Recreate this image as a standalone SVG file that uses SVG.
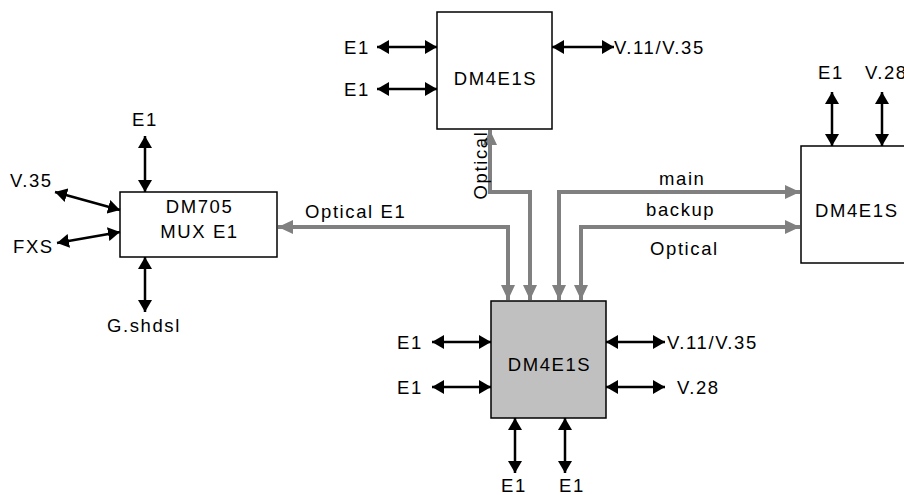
<svg xmlns="http://www.w3.org/2000/svg" width="904" height="495" viewBox="0 0 904 495">
<style>
text{font-family:"Liberation Sans",Arial,sans-serif;font-size:18.5px;letter-spacing:1.6px;fill:#000}
.box{fill:#fff;stroke:#000;stroke-width:1.5}
.boxg{fill:#c0c0c0;stroke:#000;stroke-width:1.5}
.bl{fill:none;stroke:#000;stroke-width:2.5;marker-start:url(#ab);marker-end:url(#ab)}
.gl{fill:none;stroke:#808080;stroke-width:4;marker-start:url(#ag);marker-end:url(#ag)}
.m{text-anchor:middle}
</style>
<defs>
<marker id="ab" viewBox="0 0 12 14" refX="12" refY="7" markerWidth="12" markerHeight="14" markerUnits="userSpaceOnUse" orient="auto-start-reverse"><path d="M0,0 L12,7 L0,14 z" fill="#000"/></marker>
<marker id="ag" viewBox="0 0 15 14" refX="15" refY="7" markerWidth="15" markerHeight="14" markerUnits="userSpaceOnUse" orient="auto-start-reverse"><path d="M0,0 L15,7 L0,14 z" fill="#808080"/></marker>
</defs>
<g id="connectors">
<path class="gl" d="M278,227 H508 V300"/>
<path class="gl" d="M490,130 V192 H530 V300"/>
<path class="gl" d="M559,300 V192 H800"/>
<path class="gl" d="M581,300 V227 H800"/>
<text x="305" y="218">Optical E1</text>
<text transform="translate(487,165) rotate(-90)" class="m">Optical</text>
<text x="659" y="185">main</text>
<text x="646" y="216">backup</text>
<text x="650" y="255">Optical</text>
</g>
<g id="dm4e1s-top">
<rect class="box" x="437" y="12" width="115" height="117"/>
<text class="m" x="495.5" y="85">DM4E1S</text>
<path class="bl" d="M377,47 H437"/>
<path class="bl" d="M377,89 H437"/>
<path class="bl" d="M552,47 H614"/>
<text x="344" y="54">E1</text>
<text x="344" y="96">E1</text>
<text x="614" y="54">V.11/V.35</text>
</g>
<g id="dm705">
<rect class="box" x="120" y="192" width="157" height="65"/>
<text class="m" x="199.5" y="213">DM705</text>
<text class="m" x="199.5" y="238">MUX E1</text>
<path class="bl" d="M145,136 V192"/>
<path class="bl" d="M145,257 V312"/>
<path class="bl" d="M55,192 L120,210"/>
<path class="bl" d="M57,243 L120,232"/>
<text class="m" x="145" y="126">E1</text>
<text x="10" y="187">V.35</text>
<text x="13" y="253">FXS</text>
<text x="107" y="332">G.shdsl</text>
</g>
<g id="dm4e1s-right">
<rect class="box" x="801" y="146" width="115" height="117"/>
<text x="815" y="217">DM4E1S</text>
<path class="bl" d="M832,92 V146"/>
<path class="bl" d="M882,92 V146"/>
<text x="818" y="79">E1</text>
<text x="865" y="79">V.28</text>
</g>
<g id="dm4e1s-main">
<rect class="boxg" x="491" y="301" width="115" height="117"/>
<text class="m" x="549.5" y="371">DM4E1S</text>
<path class="bl" d="M432,342 H491"/>
<path class="bl" d="M432,387 H491"/>
<path class="bl" d="M606,342 H665"/>
<path class="bl" d="M606,387 H665"/>
<path class="bl" d="M515,418 V473"/>
<path class="bl" d="M565,418 V473"/>
<text x="397" y="349">E1</text>
<text x="397" y="394">E1</text>
<text x="667" y="349">V.11/V.35</text>
<text x="677" y="394">V.28</text>
<text x="501" y="492">E1</text>
<text x="559" y="492">E1</text>
</g>
</svg>
